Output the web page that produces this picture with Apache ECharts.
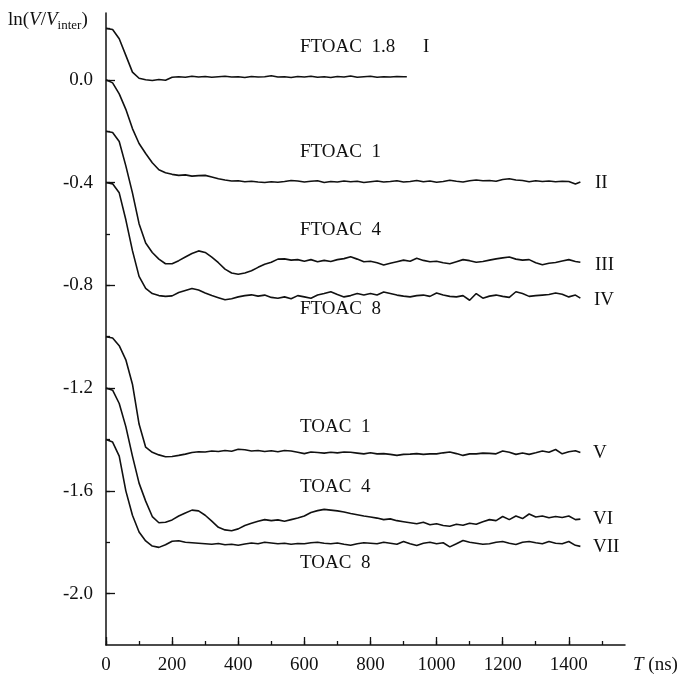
<!DOCTYPE html>
<html><head><meta charset="utf-8">
<script src="https://cdn.jsdelivr.net/npm/echarts@6/dist/echarts.min.js"></script>
<style>html,body{margin:0;padding:0;background:#fff}#c{width:683px;height:675px}</style>
</head><body><div id="c"></div>
<script>
// ---- data ----
const timesI = [0,20,40,60,80,100,120,140,160,180,200,220,240,260,280,300,320,340,360,380,400,420,440,460,480,500,520,540,560,580,600,620,640,660,680,700,720,740,760,780,800,820,840,860,880,900,910];
const times = [0,20,40,60,80,100,120,140,160,180,200,220,240,260,280,300,320,340,360,380,400,420,440,460,480,500,520,540,560,580,600,620,640,660,680,700,720,740,760,780,800,820,840,860,880,900,920,940,960,980,1000,1020,1040,1060,1080,1100,1120,1140,1160,1180,1200,1220,1240,1260,1280,1300,1320,1340,1360,1380,1400,1420,1435];

const curveI = [0.200,0.196,0.160,0.095,0.030,0.006,0.000,-0.003,0.001,-0.002,
  0.010,0.012,0.010,0.014,0.011,0.013,0.010,0.012,0.014,0.011,
  0.012,0.009,0.013,0.011,0.012,0.016,0.011,0.012,0.009,0.013,
  0.011,0.014,0.010,0.012,0.009,0.013,0.011,0.015,0.010,0.012,
  0.014,0.010,0.012,0.011,0.013,0.012,0.012];
const curveII = [0.000,-0.012,-0.055,-0.115,-0.190,-0.248,-0.287,-0.323,-0.350,-0.362,
  -0.368,-0.372,-0.370,-0.375,-0.373,-0.372,-0.378,-0.385,-0.390,-0.394,
  -0.393,-0.397,-0.395,-0.398,-0.400,-0.397,-0.399,-0.396,-0.392,-0.394,
  -0.398,-0.395,-0.393,-0.400,-0.396,-0.398,-0.394,-0.397,-0.395,-0.400,
  -0.397,-0.394,-0.398,-0.396,-0.393,-0.398,-0.396,-0.392,-0.397,-0.394,
  -0.399,-0.396,-0.391,-0.395,-0.398,-0.393,-0.390,-0.393,-0.392,-0.395,
  -0.388,-0.385,-0.390,-0.392,-0.397,-0.393,-0.396,-0.394,-0.397,-0.395,
  -0.396,-0.406,-0.398];
const curveIII = [-0.200,-0.205,-0.240,-0.335,-0.440,-0.560,-0.635,-0.672,-0.698,-0.716,
  -0.716,-0.704,-0.690,-0.676,-0.666,-0.672,-0.690,-0.712,-0.737,-0.752,
  -0.757,-0.752,-0.743,-0.730,-0.718,-0.710,-0.698,-0.697,-0.702,-0.700,
  -0.706,-0.700,-0.708,-0.703,-0.707,-0.700,-0.696,-0.689,-0.698,-0.708,
  -0.706,-0.712,-0.721,-0.714,-0.708,-0.702,-0.706,-0.695,-0.703,-0.708,
  -0.706,-0.712,-0.716,-0.708,-0.700,-0.704,-0.710,-0.707,-0.702,-0.697,
  -0.693,-0.690,-0.698,-0.702,-0.700,-0.712,-0.720,-0.714,-0.711,-0.705,
  -0.700,-0.707,-0.710];
const curveIV = [-0.400,-0.405,-0.440,-0.545,-0.665,-0.765,-0.812,-0.832,-0.840,-0.843,
  -0.841,-0.828,-0.820,-0.812,-0.818,-0.830,-0.840,-0.848,-0.856,-0.852,
  -0.845,-0.840,-0.837,-0.842,-0.838,-0.847,-0.850,-0.845,-0.852,-0.840,
  -0.845,-0.850,-0.838,-0.832,-0.825,-0.836,-0.845,-0.840,-0.832,-0.838,
  -0.832,-0.838,-0.826,-0.832,-0.838,-0.842,-0.845,-0.840,-0.838,-0.843,
  -0.830,-0.838,-0.843,-0.845,-0.840,-0.858,-0.832,-0.850,-0.842,-0.838,
  -0.843,-0.847,-0.825,-0.832,-0.843,-0.840,-0.838,-0.836,-0.830,-0.835,
  -0.845,-0.838,-0.850];
const curveV = [-1.000,-1.005,-1.035,-1.090,-1.185,-1.340,-1.430,-1.450,-1.460,-1.467,
  -1.466,-1.462,-1.457,-1.451,-1.448,-1.449,-1.445,-1.447,-1.443,-1.446,
  -1.438,-1.440,-1.445,-1.443,-1.447,-1.444,-1.448,-1.443,-1.445,-1.450,
  -1.455,-1.449,-1.451,-1.453,-1.450,-1.452,-1.449,-1.450,-1.453,-1.456,
  -1.452,-1.456,-1.455,-1.458,-1.462,-1.458,-1.457,-1.455,-1.458,-1.456,
  -1.456,-1.452,-1.449,-1.455,-1.462,-1.456,-1.456,-1.453,-1.454,-1.456,
  -1.445,-1.450,-1.458,-1.453,-1.458,-1.452,-1.445,-1.450,-1.439,-1.456,
  -1.448,-1.444,-1.451];
const curveVI = [-1.200,-1.208,-1.260,-1.350,-1.465,-1.570,-1.640,-1.700,-1.724,-1.722,
  -1.713,-1.698,-1.686,-1.675,-1.678,-1.695,-1.718,-1.742,-1.752,-1.755,
  -1.748,-1.735,-1.726,-1.718,-1.712,-1.716,-1.713,-1.718,-1.712,-1.706,
  -1.698,-1.684,-1.677,-1.672,-1.675,-1.678,-1.682,-1.688,-1.693,-1.698,
  -1.702,-1.706,-1.712,-1.709,-1.716,-1.720,-1.724,-1.728,-1.722,-1.732,
  -1.728,-1.735,-1.738,-1.730,-1.734,-1.726,-1.730,-1.720,-1.712,-1.716,
  -1.700,-1.712,-1.698,-1.708,-1.690,-1.702,-1.698,-1.705,-1.700,-1.704,
  -1.698,-1.712,-1.710];
const curveVII = [-1.400,-1.410,-1.465,-1.600,-1.695,-1.760,-1.795,-1.815,-1.820,-1.810,
  -1.796,-1.794,-1.800,-1.802,-1.804,-1.806,-1.808,-1.805,-1.810,-1.808,
  -1.812,-1.807,-1.803,-1.806,-1.800,-1.803,-1.806,-1.804,-1.808,-1.805,
  -1.806,-1.802,-1.800,-1.804,-1.806,-1.803,-1.808,-1.812,-1.806,-1.802,
  -1.804,-1.806,-1.800,-1.804,-1.808,-1.797,-1.806,-1.813,-1.804,-1.800,
  -1.806,-1.802,-1.818,-1.806,-1.793,-1.800,-1.804,-1.808,-1.806,-1.800,
  -1.797,-1.804,-1.809,-1.800,-1.797,-1.802,-1.806,-1.797,-1.804,-1.806,
  -1.797,-1.812,-1.816];

const sampleNames = ['FTOAC  1.8','FTOAC  1','FTOAC  4','FTOAC  8','TOAC  1','TOAC  4','TOAC  8'];
const romanNames = ['I','II','III','IV','V','VI','VII'];

const xMajorTicks = [0,200,400,600,800,1000,1200,1400];
const xMinorTicks = [0,100,200,300,400,500,600,700,800,900,1000,1100,1200,1300,1400,1500];
const yMajorTicks = [0,-0.4,-0.8,-1.2,-1.6,-2.0];
const yMinorTicks = [0.2,0,-0.2,-0.4,-0.6,-0.8,-1.0,-1.2,-1.4,-1.6,-1.8,-2.0];

// ---- chart ----
const FONT = 'Liberation Serif, Times New Roman, serif';
const black = '#111';
const chart = echarts.init(document.getElementById('c'), null, {renderer: 'canvas'});

function pair(ts, vs) { return ts.map((t, i) => [t, vs[i]]); }
const curves = [
  pair(timesI, curveI), pair(times, curveII), pair(times, curveIII), pair(times, curveIV),
  pair(times, curveV), pair(times, curveVI), pair(times, curveVII)
];

const axisCommonX = {type: 'value', min: 0, max: 1570, position: 'bottom', splitLine: {show: false}};
const axisCommonY = {type: 'value', min: -2.2, max: 0.26, position: 'left', splitLine: {show: false}};

// annotation positions (pixels)
const nameX = 300;
const nameY = [47, 152, 230, 309, 427, 487, 563];
const romanX = [423, 595, 595, 594, 593, 593, 593];
const romanY = [47, 183, 265, 300, 453, 519, 547];

const graphics = [];
sampleNames.forEach((n, i) => {
  graphics.push({type: 'text', x: nameX, y: nameY[i], style: {text: n, font: '19px ' + FONT, fill: black, textVerticalAlign: 'middle', verticalAlign: 'middle'}});
  graphics.push({type: 'text', x: romanX[i], y: romanY[i], style: {text: romanNames[i], font: '19px ' + FONT, fill: black, textVerticalAlign: 'middle', verticalAlign: 'middle'}});
});
graphics.push({type: 'text', x: 8, y: 8, style: {
  text: '{a|ln(}{i|V}{a|/}{i|V}{s|inter}{a|)}',
  rich: {
    a: {fontFamily: FONT, fontSize: 19, lineHeight: 24, verticalAlign: 'middle', fill: black, color: black},
    i: {fontFamily: FONT, fontSize: 19, fontStyle: 'italic', lineHeight: 24, verticalAlign: 'middle', fill: black, color: black},
    s: {fontFamily: FONT, fontSize: 13, lineHeight: 14, verticalAlign: 'bottom', fill: black, color: black}
  }, verticalAlign: 'top', textVerticalAlign: 'top'}});
graphics.push({type: 'text', x: 633, y: 665, style: {
  text: '{i|T}{a| (ns)}',
  rich: {
    a: {fontFamily: FONT, fontSize: 19, fill: black, color: black},
    i: {fontFamily: FONT, fontSize: 19, fontStyle: 'italic', fill: black, color: black}
  }, verticalAlign: 'middle', textVerticalAlign: 'middle'}});

chart.setOption({
  animation: false,
  backgroundColor: '#fff',
  grid: {left: 106, right: 58, top: 13, bottom: 30, containLabel: false, outerBoundsMode: 'none'},
  xAxis: [
    Object.assign({}, axisCommonX, {
      axisLine: {show: true, onZero: false, lineStyle: {color: black, width: 1.5}},
      axisTick: {show: true, inside: true, length: 4, customValues: xMinorTicks, lineStyle: {color: black, width: 1.3}},
      axisLabel: {show: true, customValues: xMajorTicks, margin: 11, color: black, fontFamily: FONT, fontSize: 19,
        formatter: v => String(v)}
    }),
    Object.assign({}, axisCommonX, {
      axisLine: {show: false, onZero: false},
      axisTick: {show: true, inside: true, length: 8, customValues: xMajorTicks, lineStyle: {color: black, width: 1.3}},
      axisLabel: {show: false}
    })
  ],
  yAxis: [
    Object.assign({}, axisCommonY, {
      axisLine: {show: true, onZero: false, lineStyle: {color: black, width: 1.5}},
      axisTick: {show: true, inside: true, length: 4, customValues: yMinorTicks, lineStyle: {color: black, width: 1.3}},
      axisLabel: {show: true, customValues: yMajorTicks, margin: 13, color: black, fontFamily: FONT, fontSize: 19,
        formatter: v => v.toFixed(1)}
    }),
    Object.assign({}, axisCommonY, {
      axisLine: {show: false, onZero: false},
      axisTick: {show: true, inside: true, length: 9, customValues: yMajorTicks, lineStyle: {color: black, width: 1.3}},
      axisLabel: {show: false}
    })
  ],
  series: curves.map((d, i) => ({
    type: 'line', name: romanNames[i], data: d, xAxisIndex: 0, yAxisIndex: 0,
    showSymbol: false, symbol: 'none', smooth: false,
    lineStyle: {color: black, width: 1.6}
  })),
  graphic: graphics
});
</script>
</body></html>
